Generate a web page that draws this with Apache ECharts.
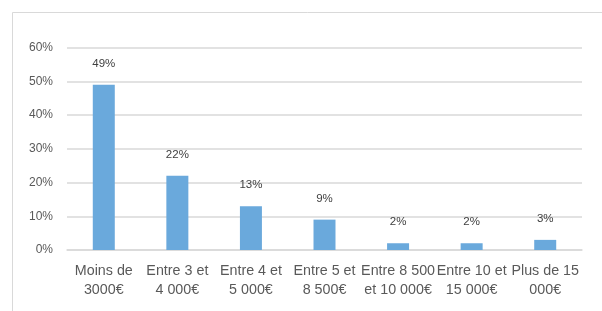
<!DOCTYPE html>
<html>
<head>
<meta charset="utf-8">
<script src="https://cdn.jsdelivr.net/npm/echarts@6/dist/echarts.min.js"></script>
<style>
html,body{margin:0;padding:0;background:#fff;}
#c{width:602px;height:311px;}
</style>
</head>
<body>
<div id="c"></div>
<script>
var categories = ["Moins de\n3000€", "Entre 3 et\n4 000€", "Entre 4 et\n5 000€", "Entre 5 et\n8 500€", "Entre 8 500\net 10 000€", "Entre 10 et\n15 000€", "Plus de 15\n000€"];
var values = [49, 22, 13, 9, 2, 2, 3];
var yTicks = [0, 10, 20, 30, 40, 50, 60];

var chart = echarts.init(document.getElementById('c'), null, {renderer: 'canvas'});
chart.setOption({
  animation: false,
  backgroundColor: '#ffffff',
  graphic: [{
    type: 'rect',
    shape: {x: 12.5, y: 12.5, width: 620, height: 320},
    style: {fill: 'none', stroke: '#d9d9d9', lineWidth: 1},
    silent: true
  }],
  grid: {left: 67, right: 20, top: 47.5, bottom: 61, containLabel: false},
  xAxis: {
    type: 'category',
    data: categories,
    axisLine: {show: true, lineStyle: {color: '#d9d9d9', width: 1.5}},
    axisTick: {show: false},
    axisLabel: {
      interval: 0,
      margin: 12,
      color: '#595959',
      fontFamily: 'Liberation Sans',
      fontSize: 14.3,
      lineHeight: 19
    }
  },
  yAxis: {
    type: 'value',
    min: yTicks[0],
    max: yTicks[yTicks.length - 1],
    interval: 10,
    axisLine: {show: false},
    axisTick: {show: false},
    splitLine: {lineStyle: {color: '#d9d9d9', width: 1.5}},
    axisLabel: {
      margin: 14,
      color: '#595959',
      fontFamily: 'Liberation Sans',
      fontSize: 12,
      formatter: function (v) { return v + '%'; }
    }
  },
  series: [{
    type: 'bar',
    data: values,
    barWidth: 22,
    itemStyle: {color: '#6aa9dc'},
    label: {
      show: true,
      position: 'top',
      distance: 15,
      color: '#404040',
      fontFamily: 'Liberation Sans',
      fontSize: 11.5,
      formatter: function (p) { return p.value + '%'; }
    }
  }]
});
</script>
</body>
</html>
